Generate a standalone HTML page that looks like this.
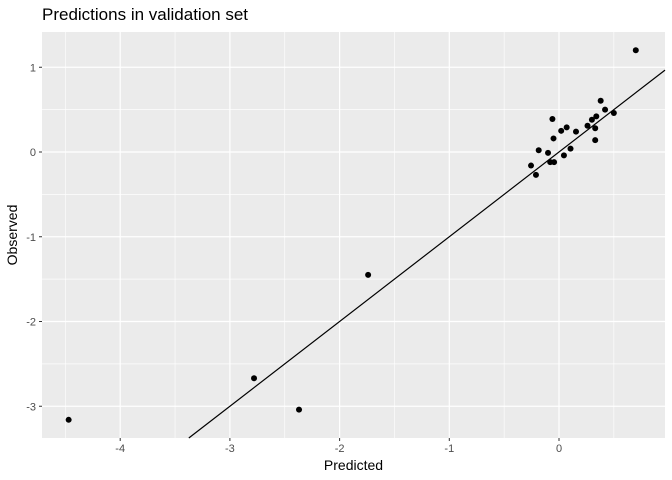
<!DOCTYPE html>
<html><head><meta charset="utf-8"><style>html,body{margin:0;padding:0;background:#fff;width:672px;height:480px;overflow:hidden}svg{display:block;font-family:"Liberation Sans",sans-serif}</style></head>
<body>
<svg id="c" width="672" height="480"></svg>
<script>
const obsX=[0.70,0.38,0.42,0.50,0.34,0.30,0.26,0.33,0.33,-0.06,0.07,0.02,0.155,-0.05,-0.185,-0.10,0.105,0.045,-0.255,-0.08,-0.045,-0.21,-1.74,-2.78,-2.37,-4.47];
const obsY=[1.20,0.605,0.50,0.46,0.42,0.38,0.31,0.28,0.14,0.39,0.29,0.25,0.24,0.16,0.02,-0.01,0.04,-0.04,-0.16,-0.12,-0.12,-0.27,-1.45,-2.67,-3.04,-3.16];
const xTicks=[-4,-3,-2,-1,0];
const yTicks=[-3,-2,-1,0,1];
const L=42,R=665,T=32,B=438;
const sx=v=>559+v*109.7, sy=v=>152-v*84.75;
const ix=p=>(p-559)/109.7, iy=p=>(152-p)/84.75;
const ns='http://www.w3.org/2000/svg', svg=document.getElementById('c');
function add(tag,a,p){const e=document.createElementNS(ns,tag);for(const k in a)e.setAttribute(k,a[k]);(p||svg).appendChild(e);return e;}
const bg=add('rect',{x:L,y:T,width:R-L,height:B-T,fill:'#ebebeb'});


xTicks.forEach(t=>{const m=add('line',{x1:sx(t+0.5),x2:sx(t+0.5),y1:T,y2:B,stroke:'#fff','stroke-width':0.6});});
const m0=add('line',{x1:sx(-4.5),x2:sx(-4.5),y1:T,y2:B,stroke:'#fff','stroke-width':0.6});


yTicks.forEach(t=>{[t-0.5,t+0.5].forEach(v=>{const y=sy(v);if(y>T&&y<B){const m=add('line',{x1:L,x2:R,y1:y,y2:y,stroke:'#fff','stroke-width':0.6});}});});
xTicks.forEach(t=>{const x=sx(t);
const g=add('line',{x1:x,x2:x,y1:T,y2:B,stroke:'#fff','stroke-width':1.2});
const k=add('line',{x1:x,x2:x,y1:B,y2:B+3,stroke:'#333','stroke-width':1});
const l=add('text',{x:x,y:B+14,'text-anchor':'middle','font-size':11,fill:'#4d4d4d'});l.textContent=t;});
yTicks.forEach(t=>{const y=sy(t);
const g=add('line',{x1:L,x2:R,y1:y,y2:y,stroke:'#fff','stroke-width':1.2});
const k=add('line',{x1:L-3,x2:L,y1:y,y2:y,stroke:'#333','stroke-width':1});
const l=add('text',{x:L-6,y:y+4,'text-anchor':'end','font-size':11,fill:'#4d4d4d'});l.textContent=t;});
const vLo=Math.max(ix(L),iy(B)), vHi=Math.min(ix(R),iy(T));
const ref=add('line',{x1:sx(vLo),y1:sy(vLo),x2:sx(vHi),y2:sy(vHi),stroke:'#000','stroke-width':1.2});


obsX.forEach((v,i)=>{const c=add('circle',{cx:sx(v),cy:sy(obsY[i]),r:3,fill:'#000'});

});
const ti=add('text',{x:42,y:20,'font-size':17,fill:'#000'});ti.textContent='Predictions in validation set';


const xl=add('text',{x:(L+R)/2,y:470,'text-anchor':'middle','font-size':14,fill:'#000'});xl.textContent='Predicted';


const yl=add('text',{x:0,y:0,'text-anchor':'middle','font-size':14,fill:'#000',transform:`translate(17,${(T+B)/2}) rotate(-90)`});yl.textContent='Observed';


</script>
</body></html>
